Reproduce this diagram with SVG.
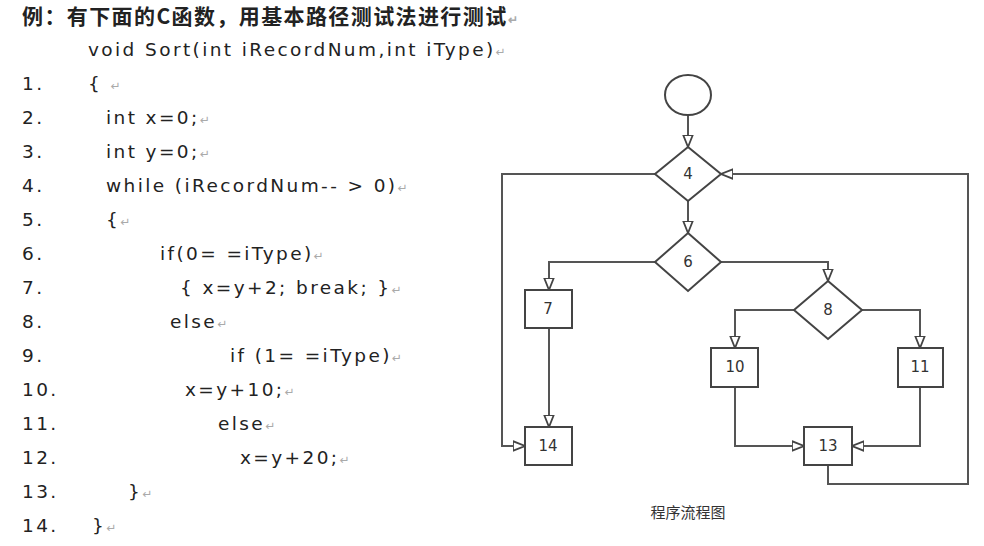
<svg xmlns="http://www.w3.org/2000/svg" width="984" height="546" viewBox="0 0 984 546">
<style>
.t{font-family:"DejaVu Sans","Noto Sans CJK SC",sans-serif;font-size:18.5px;fill:#222;letter-spacing:2.4px}
.cn{font-family:"Noto Sans CJK SC",sans-serif;font-size:21px;fill:#222;font-weight:bold;letter-spacing:1.4px}
.m{fill:#aaa;font-size:12px;letter-spacing:0}
.s{fill:#fff;stroke:#444;stroke-width:2}
.l{text-anchor:middle;font-family:"DejaVu Sans",sans-serif;font-size:15px;fill:#333}
.c{fill:none;stroke:#555;stroke-width:2}
</style>
<defs>
<marker id="a" viewBox="0 0 10 10" refX="10" refY="5" markerWidth="6" markerHeight="6" orient="auto"><path d="M0,1 L10,5 L0,9 Z" fill="#fff" stroke="#444" stroke-width="1.5"/></marker>
</defs>
<rect width="984" height="546" fill="#fff"/>
<g id="code">
<text class="cn" x="22" y="24">例：有下面的C函数，用基本路径测试法进行测试<tspan class="m">↵</tspan></text>
<text class="t" x="88" y="56">void   Sort(int iRecordNum,int iType)<tspan class="m">↵</tspan></text>
<text class="t" x="22" y="90">1.</text><text class="t" x="88" y="90">{   <tspan class="m">↵</tspan></text>
<text class="t" x="22" y="124">2.</text><text class="t" x="106" y="124">int x=0;<tspan class="m">↵</tspan></text>
<text class="t" x="22" y="158">3.</text><text class="t" x="106" y="158">int y=0;<tspan class="m">↵</tspan></text>
<text class="t" x="22" y="192">4.</text><text class="t" x="106" y="192">while (iRecordNum-- &gt; 0)<tspan class="m">↵</tspan></text>
<text class="t" x="22" y="226">5.</text><text class="t" x="106" y="226">{<tspan class="m">↵</tspan></text>
<text class="t" x="22" y="260">6.</text><text class="t" x="160" y="260">if(0= =iType)<tspan class="m">↵</tspan></text>
<text class="t" x="22" y="294">7.</text><text class="t" x="180" y="294">{ x=y+2; break; }<tspan class="m">↵</tspan></text>
<text class="t" x="22" y="328">8.</text><text class="t" x="170" y="328">else<tspan class="m">↵</tspan></text>
<text class="t" x="22" y="362">9.</text><text class="t" x="230" y="362">if (1= =iType)<tspan class="m">↵</tspan></text>
<text class="t" x="22" y="396">10.</text><text class="t" x="185" y="396">x=y+10;<tspan class="m">↵</tspan></text>
<text class="t" x="22" y="430">11.</text><text class="t" x="218" y="430">else<tspan class="m">↵</tspan></text>
<text class="t" x="22" y="464">12.</text><text class="t" x="240" y="464">x=y+20;<tspan class="m">↵</tspan></text>
<text class="t" x="22" y="498">13.</text><text class="t" x="128" y="498">}<tspan class="m">↵</tspan></text>
<text class="t" x="22" y="532">14.</text><text class="t" x="92" y="532">}<tspan class="m">↵</tspan></text>
</g>
<g id="connectors">
<path class="c" d="M688,115 V147" marker-end="url(#a)"/>
<path class="c" d="M688,201 V233" marker-end="url(#a)"/>
<path class="c" d="M655,174 H502 V446 H525" marker-end="url(#a)"/>
<path class="c" d="M828,465 V484 H968 V174 H721" marker-end="url(#a)"/>
<path class="c" d="M655,262 H549 V290" marker-end="url(#a)"/>
<path class="c" d="M721,262 H828 V281" marker-end="url(#a)"/>
<path class="c" d="M549,328 V427" marker-end="url(#a)"/>
<path class="c" d="M794,310 H735 V348" marker-end="url(#a)"/>
<path class="c" d="M862,310 H920 V348" marker-end="url(#a)"/>
<path class="c" d="M735,387 V446 H804" marker-end="url(#a)"/>
<path class="c" d="M920,387 V446 H852" marker-end="url(#a)"/>
</g>
<g id="start"><ellipse class="s" cx="688" cy="95" rx="23" ry="20"/></g>
<g id="n4"><polygon class="s" points="688,147 721,174 688,201 655,174"/><text class="l" x="688" y="179">4</text></g>
<g id="n6"><polygon class="s" points="688,233 721,262 688,291 655,262"/><text class="l" x="688" y="267">6</text></g>
<g id="n8"><polygon class="s" points="828,281 862,310 828,339 794,310"/><text class="l" x="828" y="315">8</text></g>
<g id="n7"><rect class="s" x="525" y="290" width="47" height="38"/><text class="l" x="548" y="314">7</text></g>
<g id="n14"><rect class="s" x="525" y="427" width="47" height="38"/><text class="l" x="548" y="451">14</text></g>
<g id="n10"><rect class="s" x="711" y="348" width="47" height="39"/><text class="l" x="735" y="372">10</text></g>
<g id="n11"><rect class="s" x="898" y="348" width="45" height="39"/><text class="l" x="920" y="372">11</text></g>
<g id="n13"><rect class="s" x="804" y="427" width="48" height="38"/><text class="l" x="828" y="451">13</text></g>
<text x="688" y="518" text-anchor="middle" font-family="Noto Sans CJK SC, sans-serif" font-size="15" fill="#333">程序流程图</text>
</svg>
